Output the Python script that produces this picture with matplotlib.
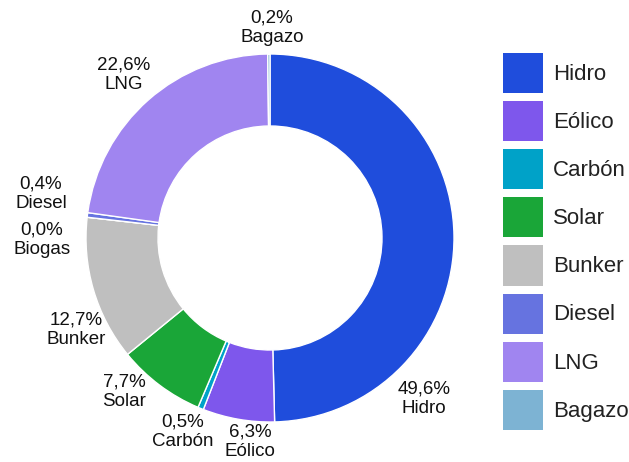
"""Donut chart of generation share by source."""

import matplotlib.pyplot as plt
from matplotlib.patches import Patch

plt.rcParams["font.family"] = ["Liberation Sans", "DejaVu Sans"]

sources = ["Hidro", "Eólico", "Carbón", "Solar", "Bunker", "Biogas",
           "Diesel", "LNG", "Bagazo"]
shares = [49.6, 6.3, 0.5, 7.7, 12.7, 0.0, 0.4, 22.6, 0.2]
colors = ["#1f4ddc", "#7e57ec", "#00a2c8", "#1aa638", "#bfbfbf", "#8fd18f",
          "#6673e0", "#a085f0", "#7db3d3"]
legend_sources = ["Hidro", "Eólico", "Carbón", "Solar", "Bunker",
                  "Diesel", "LNG", "Bagazo"]

# label centres, in pixels relative to the donut centre (y up)
label_offsets = {
    "Hidro": (154, -161), "Eólico": (-20, -204), "Carbón": (-87, -194),
    "Solar": (-146, -154), "Bunker": (-194, -92), "Biogas": (-228, -2),
    "Diesel": (-229, 44), "LNG": (-146, 163), "Bagazo": (2, 210),
}

W, H = 629, 462
cx, cy, R = 270, 224, 184  # centre (from bottom) and outer radius, px

fig = plt.figure(figsize=(W / 100, H / 100), dpi=100)
ax = fig.add_axes([0, 0, 1, 1])
ax.pie(shares, colors=colors, radius=1, startangle=90, counterclock=False,
       wedgeprops=dict(width=1 - 112 / 184, edgecolor="white", linewidth=1))
ax.set_xlim(-cx / R, (W - cx) / R)
ax.set_ylim(-cy / R, (H - cy) / R)
ax.set_aspect("equal")
ax.axis("off")

for name, val in zip(sources, shares):
    dx, dy = label_offsets[name]
    txt = f"{val:.1f}%".replace(".", ",") + "\n" + name
    ax.text(dx / R, dy / R, txt, ha="center", va="center", fontsize=13.5,
            linespacing=1.2, color="#111111")

color_of = dict(zip(sources, colors))
handles = [Patch(facecolor=color_of[s], edgecolor="none") for s in legend_sources]
fig.legend(handles, legend_sources, loc="upper left",
           bbox_to_anchor=(503 / W, 1 - 53 / H), frameon=False,
           fontsize=16, handlelength=1.8, handleheight=2.4,
           labelspacing=0.36, handletextpad=0.45, borderpad=0,
           borderaxespad=0, labelcolor="#222222")

fig.savefig("out.png", dpi=100)
